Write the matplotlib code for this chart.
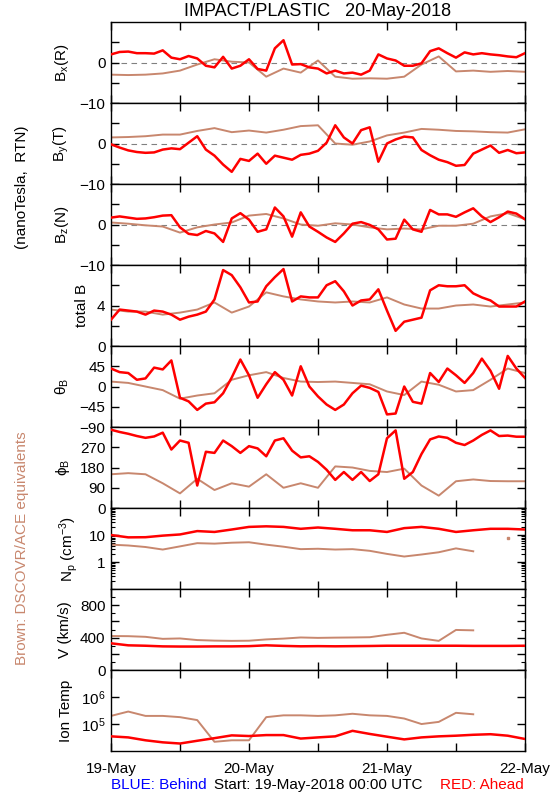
import numpy as np
import matplotlib
matplotlib.use('Agg')
from matplotlib import pyplot as plt
from matplotlib import ticker

plt.rcParams['font.family'] = ['Liberation Sans', 'DejaVu Sans']
plt.rcParams['mathtext.default'] = 'regular'

RED = '#ff0000'
BROWN = '#c8876e'
nan = np.nan

# hours since 19-May-2018 00:00 UTC
t_fast = np.arange(0, 72.1, 1.5)   # Ahead magnetic field
t_slow = np.arange(0, 72.1, 3.0)   # DSCOVR/ACE and plasma

# magnetic field, Ahead (red)
bx_red = [2.0, 2.6, 2.7, 2.3, 2.3, 2.2, 3.0, 1.2, 0.8, 1.6, 1.0, -0.8, -1.2, 1.4, -1.5, -0.8, 0.8,
          -1.6, -2.0, 3.5, 5.5, -0.5, -0.4, -1.2, -1.5, -2.7, -2.0, -2.7, -2.5, -3.0, -2.0, 2.0, 1.0,
          0.5, -0.8, -0.8, -0.2, 2.8, 3.5, 2.3, 1.2, 2.5, 2.0, 2.3, 2.0, 1.8, 1.5, 1.3, 2.3]
by_red = [-0.2, -1.0, -1.7, -2.1, -2.3, -2.2, -1.5, -1.2, -1.4, 0.2, 1.8, -1.5, -3.0, -5.2, -7.0,
          -3.8, -4.3, -2.5, -5.0, -3.0, -3.5, -4.0, -2.8, -2.5, -1.8, 0.2, 4.5, 1.5, 0.0, 3.3, 4.0,
          -4.5, 0.0, 1.0, 1.7, 1.5, -1.6, -2.9, -4.0, -4.6, -5.5, -5.3, -2.5, -1.5, -0.5, -2.3, -1.6,
          -2.4, -2.2]
bz_red = [1.7, 2.0, 1.7, 1.4, 1.5, 1.8, 2.2, 2.3, -0.7, -2.3, -2.6, -1.6, -2.2, -4.3, 1.5, 2.8, 1.2,
          -1.8, -1.2, 4.2, 2.0, -3.0, 3.0, -0.5, -1.8, -3.2, -4.3, -2.2, 0.2, 0.6, -0.1, -1.2, -3.7,
          -3.5, 1.2, -1.2, -1.8, 3.6, 2.5, 2.5, 1.9, 3.0, 4.0, 2.0, 0.6, 1.8, 3.2, 2.7, 1.3]
bt_red = [2.6, 3.6, 3.5, 3.4, 3.1, 3.5, 3.4, 3.1, 2.6, 2.9, 3.1, 3.4, 4.6, 7.5, 7.0, 5.8, 4.3, 4.4,
          5.9, 6.8, 7.6, 4.4, 4.9, 4.8, 4.8, 6.0, 6.4, 5.4, 4.0, 4.5, 4.6, 5.6, 3.5, 1.5, 2.4, 2.6,
          2.8, 5.5, 6.0, 5.9, 5.9, 6.0, 5.2, 4.8, 4.5, 3.9, 3.9, 3.9, 4.4]
theta_red = [40, 32, 30, 15, 18, 42, 38, 58, -25, -33, -52, -38, -35, -15, 20, 60, 25, -25, 5, 32,
             15, -20, 45, 0, -22, -40, -52, -40, -15, 2, -3, -12, -62, -60, 0, -34, -38, 30, 10, 40,
             25, 8, 30, 62, 35, -5, 68, 40, 19]
phi_red = [348, 338, 330, 320, 312, 318, 335, 260, 300, 290, 100, 250, 245, 300, 275, 245, 275, 265,
           230, 300, 310, 255, 225, 230, 205, 170, 125, 160, 125, 160, 120, 150, 310, 345, 130, 160,
           240, 305, 318, 312, 290, 280, 300, 325, 345, 320, 322, 317, 317]

# magnetic field, DSCOVR/ACE (brown)
bx_brown = [-3.0, -3.1, -3.0, -2.7, -2.0, -0.5, 0.8, 0.2, 0.0, -3.5, -1.5, -2.5, 0.5, -3.5, -4.0,
            -3.9, -4.0, -3.5, -0.5, 1.5, -2.2, -2.0, -2.3, -2.1, -2.3]
by_brown = [1.5, 1.6, 1.8, 2.2, 2.2, 3.1, 3.8, 2.8, 3.2, 2.7, 3.4, 4.3, 4.5, 0.0, -0.3, 0.5, 2.0,
            2.7, 3.6, 3.4, 3.1, 3.0, 2.8, 2.7, 3.5]
bz_brown = [0.5, 0.2, -0.2, -0.5, -2.0, -0.7, 0.0, 0.5, 2.2, 2.6, 1.5, 0.0, -0.3, 0.3, 0.0, -0.7,
            -1.2, -1.0, -1.2, -0.3, -0.3, 0.2, 2.0, 2.8, 1.3]
bt_brown = [3.6, 3.4, 3.4, 3.1, 3.3, 3.6, 4.3, 3.3, 3.9, 5.3, 4.9, 4.6, 4.4, 4.3, 4.4, 4.3, 4.8, 4.1,
            3.7, 3.7, 4.0, 4.1, 3.9, 4.1, 4.3]
theta_brown = [11, 8, 0, -8, -27, -20, -15, 15, 25, 32, 19, 11, 10, 11, 8, 5, -11, -19, 11, 4, -11,
               -8, 15, 40, 30]
phi_brown = [150, 155, 150, 110, 65, 130, 80, 110, 95, 150, 90, 110, 90, 185, 180, 165, 160, 175,
             100, 55, 119, 127, 120, 119, 119]

# plasma
np_red = [10, 8.2, 8.3, 9.5, 10.5, 14, 13, 16, 20, 21, 20, 17, 19, 17, 15, 15, 13, 18, 20, 17, 13,
          15, 17, 17, 16]
np_brown = [4.4, 4.1, 3.6, 2.9, 3.8, 5.0, 4.8, 5.2, 5.4, 4.4, 3.7, 3.0, 3.1, 2.9, 3.0, 2.6, 2.0,
            1.6, 1.9, 2.3, 3.2, 2.5, nan, 7.5, nan]
v_red = [330, 305, 300, 292, 290, 290, 292, 292, 295, 305, 298, 293, 295, 293, 295, 297, 300, 300,
         300, 300, 300, 298, 298, 298, 300]
v_brown = [420, 418, 410, 385, 390, 370, 363, 360, 362, 378, 388, 402, 397, 400, 402, 405, 435, 460,
           390, 360, 495, 490, nan, nan, nan]
temp_red = [35000, 32000, 25000, 21000, 19000, 24000, 30000, 38000, 36000, 39000, 39000, 29000,
            32000, 35000, 56000, 43000, 34000, 27000, 32000, 35000, 37000, 40000, 42000, 37000, 28000]
temp_brown = [2.0e5, 2.9e5, 2.0e5, 2.0e5, 1.8e5, 1.4e5, 2.2e4, 2.5e4, 2.5e4, 1.8e5, 2.1e5, 2.1e5,
              2.0e5, 2.1e5, 2.4e5, 2.1e5, 2.0e5, 1.6e5, 1.0e5, 1.2e5, 2.6e5, 2.3e5, nan, nan, nan]

M = '\u2212'
panels = [
    # ylabel, red, brown, ylim, ticks, labels, log, zero line
    ('B$_x$(R)', (t_fast, bx_red), bx_brown, (-10, 10), [-10, -5, 0, 5], [M + '10', '', '0', ''], False, True),
    ('B$_y$(T)', (t_fast, by_red), by_brown, (-10, 10), [-10, -5, 0, 5], [M + '10', '', '0', ''], False, True),
    ('B$_z$(N)', (t_fast, bz_red), bz_brown, (-10, 10), [-10, -5, 0, 5], [M + '10', '', '0', ''], False, True),
    ('total B', (t_fast, bt_red), bt_brown, (0, 8), [0, 2, 4, 6], ['0', '', '4', ''], False, False),
    (r'$\theta_B$', (t_fast, theta_red), theta_brown, (-90, 90), [-90, -45, 0, 45],
     [M + '90', M + '45', '0', '45'], False, False),
    (r'$\phi_B$', (t_fast, phi_red), phi_brown, (0, 360), [0, 90, 180, 270], ['0', '90', '180', '270'], False, False),
    ('N$_p$ (cm$^{-3}$)', (t_slow, np_red), np_brown, (0.1, 100), [1, 10], ['1', '10'], True, False),
    ('V (km/s)', (t_slow, v_red), v_brown, (0, 1000), [0, 200, 400, 600, 800], ['0', '', '400', '', '800'], False, False),
    ('Ion Temp', (t_slow, temp_red), temp_brown, (1e4, 1e7), [1e5, 1e6], ['$10^5$', '$10^6$'], True, False),
]

fig = plt.figure(figsize=(5.5, 8), dpi=100)
axes = fig.subplots(len(panels), 1, sharex=True)
fig.subplots_adjust(left=0.2018, right=0.9545, top=0.9725, bottom=0.0612, hspace=0)

for ax, (label, red, brown, ylim, yt, ytl, logy, zero) in zip(axes, panels):
    if logy:
        ax.set_yscale('log')
    b = np.array(brown, dtype=float)
    ax.plot(t_slow, b, '-', color=BROWN, lw=1.4, zorder=2)
    # lone samples have no neighbour to join, so show them as dots
    ok = np.isfinite(b)
    prev_ok = np.r_[False, ok[:-1]]
    next_ok = np.r_[ok[1:], False]
    lone = ok & ~prev_ok & ~next_ok
    ax.plot(t_slow[lone], b[lone], 's', color=BROWN, ms=2, zorder=2)
    ax.plot(red[0], red[1], '-', color=RED, lw=1.8, zorder=3)
    if zero:
        ax.axhline(0, color='#808080', lw=0.8, ls=(0, (5, 4)), zorder=1)
    ax.set_ylim(*ylim)
    ax.set_yticks(yt)
    ax.set_yticklabels(ytl)
    if logy and label.startswith('N'):
        ax.yaxis.set_minor_locator(ticker.LogLocator(base=10, subs=np.arange(2, 10)))
    elif ylim == (0, 1000):
        ax.yaxis.set_minor_locator(ticker.MultipleLocator(100))
    else:
        ax.yaxis.set_minor_locator(ticker.NullLocator())
    ax.yaxis.set_minor_formatter(ticker.NullFormatter())
    ax.set_ylabel(label, fontsize=11, labelpad=6)
    ax.set_xlim(0, 72)
    ax.set_xticks(np.arange(0, 73, 12))
    ax.tick_params(which='major', direction='in', length=6, width=1, top=True, right=True,
                   labelsize=11, pad=4)
    ax.tick_params(which='minor', direction='in', length=3, width=0.8, top=True, right=True)
    for s in ax.spines.values():
        s.set_linewidth(1.0)

axes[-1].set_xticks(np.arange(0, 73, 12))
axes[-1].set_xticklabels(['19-May', '', '20-May', '', '21-May', '', '22-May'])
axes[-1].tick_params(axis='x', pad=8)

fig.text(0.578, 0.985, 'IMPACT/PLASTIC   20-May-2018', ha='center', va='center', fontsize=13)
fig.text(0.04, 0.766, '(nanoTesla,  RTN)', rotation=90, ha='center', va='center', fontsize=11)
fig.text(0.04, 0.315, 'Brown: DSCOVR/ACE equivalents', rotation=90, ha='center', va='center',
         fontsize=11, color=BROWN)
fig.text(0.2018, 0.019, 'BLUE: Behind', color='blue', ha='left', va='center', fontsize=11)
fig.text(0.578, 0.019, 'Start: 19-May-2018 00:00 UTC', color='black', ha='center', va='center', fontsize=11)
fig.text(0.953, 0.019, 'RED: Ahead', color=RED, ha='right', va='center', fontsize=11)

fig.savefig('out.png', dpi=100)
